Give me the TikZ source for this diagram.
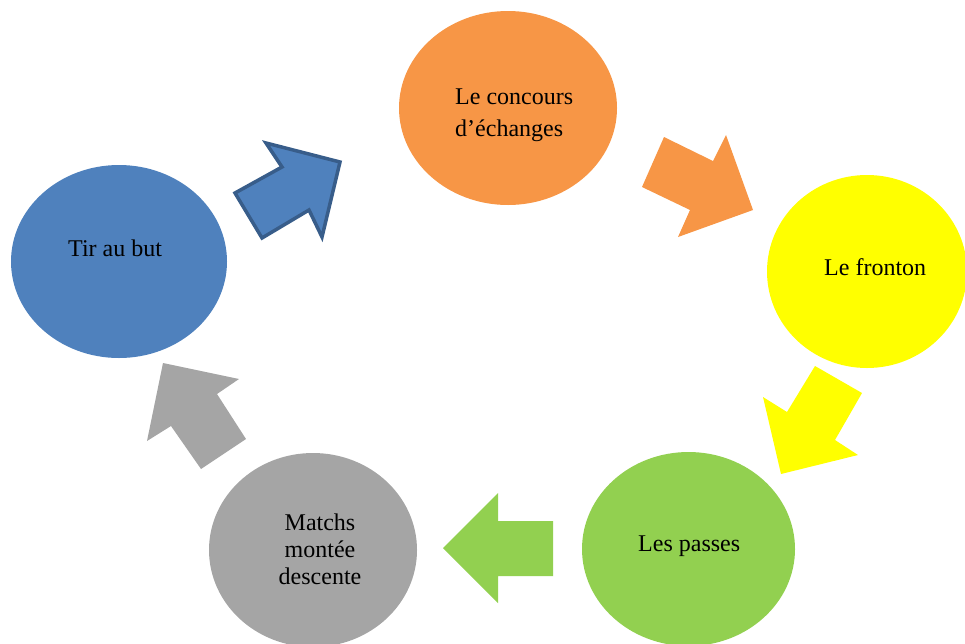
\documentclass[tikz,border=0pt]{standalone}
\usepackage{fontspec}
\setmainfont{Liberation Serif}
\usetikzlibrary{shapes.geometric}
\definecolor{orangeC}{HTML}{F79646}
\definecolor{yellowC}{HTML}{FFFF00}
\definecolor{greenC}{HTML}{92D050}
\definecolor{grayC}{HTML}{A5A5A5}
\definecolor{blueC}{HTML}{4F81BD}
\definecolor{blueD}{HTML}{385D8A}
\begin{document}
\begin{tikzpicture}[x=1pt,y=-1pt,
  blob/.style={ellipse,inner sep=0pt,draw=none},
  lbl/.style={anchor=base west,inner sep=0pt,font=\fontsize{24}{28}\selectfont},
  blockarrow/.style={draw=none}]
\useasboundingbox (0,0) rectangle (965,643);
\clip (0,0) rectangle (965,643);
% ellipses
\node[blob,fill=orangeC,minimum width=218pt,minimum height=194pt] (conc) at (508,108) {};
\node[blob,fill=yellowC,minimum width=200pt,minimum height=193pt] (front) at (867,271.5) {};
\node[blob,fill=greenC,minimum width=213pt,minimum height=194pt] (pass) at (688.5,549) {};
\node[blob,fill=grayC,minimum width=208pt,minimum height=194pt] (match) at (313,550) {};
\node[blob,fill=blueC,minimum width=216pt,minimum height=193pt] (tir) at (119,261.5) {};
% labels
\node[lbl] (t1) at (455,104) {Le concours};
\node[lbl] (t2) at (455,136) {d’échanges};
\node[lbl] (t3) at (824,275) {Le fronton};
\node[lbl] (t4) at (638,551) {Les passes};
\node[lbl] (t5) at (68,256) {Tir au but};
\node[anchor=center,inner sep=0pt,font=\fontsize{24}{27}\selectfont,align=center] (t6) at (320,549) {Matchs\\montée\\descente};
% block arrows
\fill[orangeC] (664,137) -- (713,161) -- (726,135) -- (753,210) -- (678,237) -- (690,210) -- (642,187) -- cycle;
\fill[yellowC] (862,393) -- (815,366) -- (787,412) -- (763,397) -- (781,474) -- (858,455) -- (835,440) -- cycle;
\fill[greenC] (443,548) -- (498,493) -- (498,521) -- (553,521) -- (553,576) -- (498,576) -- (498,603) -- cycle;
\fill[grayC] (163,363) -- (239,379) -- (217,394) -- (246,439) -- (201,469) -- (171,426) -- (147,441) -- cycle;
\filldraw[fill=blueC,draw=blueD,line width=3.5pt,line join=miter] (340,162) -- (322,237) -- (309,210) -- (262,238) -- (235,193) -- (282,167) -- (266,143) -- cycle;
\end{tikzpicture}
\end{document}
